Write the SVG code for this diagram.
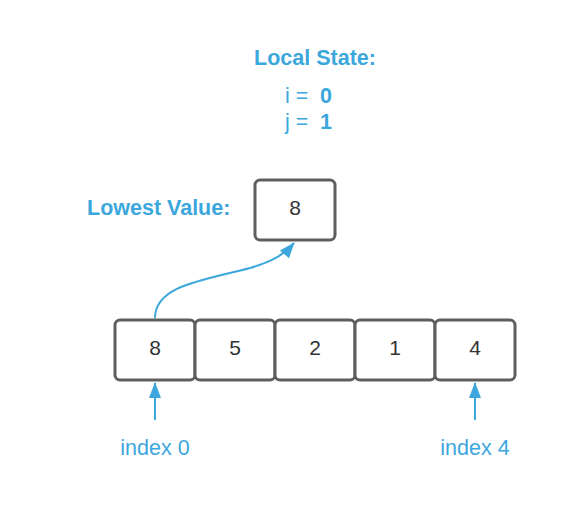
<svg xmlns="http://www.w3.org/2000/svg" width="565" height="520" viewBox="0 0 565 520">
<style>
.box{fill:#fff;stroke:#5e5e5e;stroke-width:3}
.val{font-family:"Liberation Sans",Arial,sans-serif;font-size:21px;fill:#333;text-anchor:middle}
.lbl{font-family:"Liberation Sans",Arial,sans-serif;font-size:21.5px;fill:#3ba7dd}
.b{font-weight:bold}
.con{fill:none;stroke:#3ba7dd;stroke-width:2}
</style>
<defs>
<marker id="ah" viewBox="0 0 16 12" refX="15" refY="6" markerWidth="8" markerHeight="6" orient="auto" markerUnits="strokeWidth">
<path d="M0,0 L16,6 L0,12 z" fill="#3ba7dd"/>
</marker>
</defs>
<rect width="565" height="520" fill="#fff"/>
<g id="local-state">
<text class="lbl b" x="315" y="65" text-anchor="middle">Local State:</text>
<text class="lbl" x="285" y="103">i =</text>
<text class="lbl b" x="320" y="103">0</text>
<text class="lbl" x="285" y="129">j =</text>
<text class="lbl b" x="320" y="129">1</text>
</g>
<g id="lowest-label">
<text class="lbl b" x="87" y="215">Lowest Value:</text>
</g>
<g id="lowest">
<rect class="box" x="255" y="180" width="80" height="60" rx="5"/>
<text class="val" x="295" y="215">8</text>
</g>
<g id="cell0"><rect class="box" x="115" y="320" width="80" height="60" rx="5"/><text class="val" x="155" y="355">8</text></g>
<g id="cell1"><rect class="box" x="195" y="320" width="80" height="60" rx="5"/><text class="val" x="235" y="355">5</text></g>
<g id="cell2"><rect class="box" x="275" y="320" width="80" height="60" rx="5"/><text class="val" x="315" y="355">2</text></g>
<g id="cell3"><rect class="box" x="355" y="320" width="80" height="60" rx="5"/><text class="val" x="395" y="355">1</text></g>
<g id="cell4"><rect class="box" x="435" y="320" width="80" height="60" rx="5"/><text class="val" x="475" y="355">4</text></g>
<g id="index0"><text class="lbl" x="155" y="455" text-anchor="middle">index 0</text></g>
<g id="index4"><text class="lbl" x="475" y="455" text-anchor="middle">index 4</text></g>
<g id="connectors">
<path class="con" d="M155,318 C155,285 205,280 250,268 C270,262 283,256 294,243" marker-end="url(#ah)"/>
<path class="con" d="M155,420 L155,383" marker-end="url(#ah)"/>
<path class="con" d="M475,420 L475,383" marker-end="url(#ah)"/>
</g>
</svg>
